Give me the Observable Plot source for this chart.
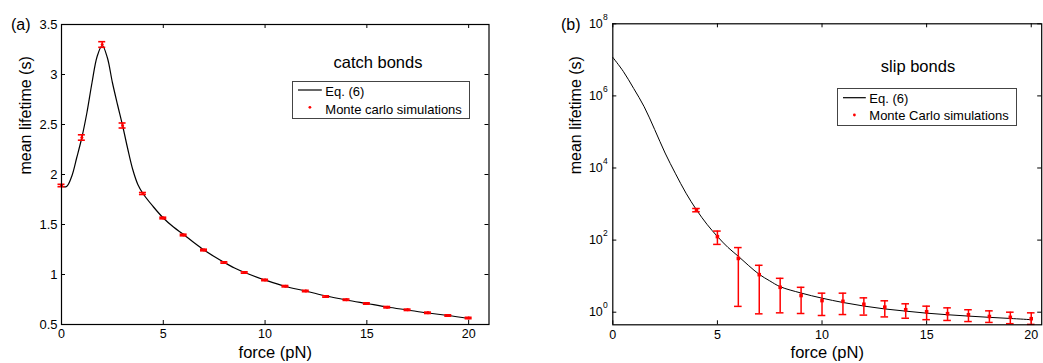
<!DOCTYPE html>
<html><head><meta charset="utf-8">
<script src="https://cdn.jsdelivr.net/npm/d3@7"></script>
<script src="https://cdn.jsdelivr.net/npm/@observablehq/plot@0.6"></script>
<style>
body{margin:0;background:#fff;font-family:"Liberation Sans",Arial,sans-serif;}
#wrap{position:relative;width:1043px;height:363px;overflow:hidden;background:#fff;}
#wrap > svg{position:absolute;top:0;}
</style></head><body><div id="wrap"></div>
<script>
// ---------- Panel (a): catch bonds ----------
const forceA = [0,1,2,3,4,5,6,7,8,9,10,11,12,13,14,15,16,17,18,19,20];
const lifetimeA = [1.89,2.37,3.30,2.49,1.81,1.565,1.395,1.245,1.12,1.02,0.945,0.883,0.835,0.78,0.748,0.71,0.673,0.647,0.617,0.59,0.565];
const errA = [0.012,0.027,0.028,0.025,0.01,0.008,0.008,0.008,0.007,0.007,0.007,0.007,0.007,0.007,0.007,0.007,0.007,0.007,0.007,0.007,0.007];
const curveForceA = [0,0.25,0.5,0.75,1,1.25,1.5,1.75,2,2.25,2.5,2.75,3,3.25,3.5,3.75,4,4.5,5,5.5,6,6.5,7,7.5,8,8.5,9,10,11,12,13,14,15,16,17,18,19,20];
const curveA = [1.88,1.88,1.98,2.17,2.37,2.62,2.92,3.18,3.29,3.17,2.92,2.70,2.49,2.26,2.05,1.90,1.81,1.68,1.565,1.475,1.40,1.32,1.245,1.18,1.12,1.065,1.02,0.945,0.88,0.835,0.785,0.745,0.71,0.675,0.645,0.615,0.59,0.56];
const xTicks = [0,5,10,15,20];
const yTicksA = [0.5,1,1.5,2,2.5,3,3.5];

// ---------- Panel (b): slip bonds ----------
const forceB = [4,5,6,7,8,9,10,11,12,13,14,15,16,17,18,19,20];
const lifetimeB = [690,125,31,11,4.9,2.9,2.1,2.0,1.66,1.38,1.17,1.03,0.91,0.85,0.76,0.72,0.66];
const lowB = [610,76,1.45,0.90,0.96,0.92,0.81,0.86,0.83,0.74,0.68,0.62,0.59,0.55,0.52,0.48,0.46];
const highB = [753,178,62,20,8.7,4.9,3.37,3.37,2.5,2.07,1.71,1.47,1.32,1.17,1.09,1.0,0.96];
const curveForceB = [0,0.5,1,1.5,2,2.5,3,3.5,4,4.5,5,5.5,6,6.5,7,7.5,8,9,10,11,12,13,14,15,16,17,18,19,20];
const curveB = [1.17e7,4.8e6,1.6e6,5.0e5,1.17e5,2.6e4,6.9e3,2.0e3,690,275,126,63,35.5,19.5,11.2,7.4,5.1,3.4,2.45,1.86,1.48,1.23,1.07,0.94,0.85,0.78,0.72,0.67,0.62];
const yTicksB = [1,1e2,1e4,1e6,1e8];
const yTickExpB = ["0","2","4","6","8"];

const FONT = "Liberation Sans, Arial, sans-serif";
const ptsA = forceA.map((f,i)=>({f, v:lifetimeA[i], lo:lifetimeA[i]-errA[i], hi:lifetimeA[i]+errA[i]}));
const lineA = curveForceA.map((f,i)=>({f, v:curveA[i]}));
const ptsB = forceB.map((f,i)=>({f, v:lifetimeB[i], lo:lowB[i], hi:highB[i]}));
const lineB = curveForceB.map((f,i)=>({f, v:curveB[i]}));

function innerTicks(xt, yt, iw, ih, tl) {
  return [
    Plot.ruleX(xt, {x: d=>d, insetTop: ih - tl, stroke: "#000"}),
    Plot.ruleX(xt, {x: d=>d, insetBottom: ih - tl, stroke: "#000"}),
    Plot.ruleY(yt, {y: d=>d, insetRight: iw - tl, stroke: "#000"}),
    Plot.ruleY(yt, {y: d=>d, insetLeft: iw - tl, stroke: "#000"})
  ];
}

// Panel a geometry
const A = {w: 520, h: 363, ml: 61, mr: 31.5, mt: 24, mb: 39};
const aiw = A.w - A.ml - A.mr, aih = A.h - A.mt - A.mb;
const plotA = Plot.plot({
  width: A.w, height: A.h, marginLeft: A.ml, marginRight: A.mr, marginTop: A.mt, marginBottom: A.mb,
  style: {fontFamily: FONT, background: "transparent", overflow: "visible", color: "#000"},
  x: {domain: [0, 21]},
  y: {domain: [0.5, 3.5]},
  marks: [
    Plot.axisX(xTicks, {tickSize: 0, tickPadding: 5, fontSize: 12.5, label: null, tickFormat: d => String(d)}),
    Plot.axisY(yTicksA, {tickSize: 0, tickPadding: 4, fontSize: 13, label: null, tickFormat: d => String(d)}),
    ...innerTicks(xTicks, yTicksA, aiw, aih, 4),
    Plot.line(lineA, {x: "f", y: "v", curve: "catmull-rom", stroke: "#000", strokeWidth: 1.2}),
    Plot.ruleX(ptsA, {x: "f", y1: "lo", y2: "hi", stroke: "red", strokeWidth: 1.5}),
    Plot.ruleY(ptsA, {y: "lo", x1: "f", x2: "f", insetLeft: -3.5, insetRight: -3.5, stroke: "red", strokeWidth: 1.6}),
    Plot.ruleY(ptsA, {y: "hi", x1: "f", x2: "f", insetLeft: -3.5, insetRight: -3.5, stroke: "red", strokeWidth: 1.6}),
    Plot.dot(ptsA, {x: "f", y: "v", r: 1.5, fill: "red", stroke: null}),
    Plot.frame({stroke: "#000", strokeWidth: 1.2}),
    Plot.text(["force (pN)"], {text: d => d, frameAnchor: "bottom", lineAnchor: "top", dy: 21.8, fontSize: 16.5}),
    Plot.text(["mean lifetime (s)"], {text: d => d, frameAnchor: "left", dx: -36, rotate: -90, fontSize: 16})
  ]
});
plotA.style.left = "0px";

// Panel b geometry
const B = {left: 530, w: 513, h: 363, ml: 82.3, mr: 1.8, mt: 23.3, mb: 38.7};
const biw = B.w - B.ml - B.mr, bih = B.h - B.mt - B.mb;
const plotB = Plot.plot({
  width: B.w, height: B.h, marginLeft: B.ml, marginRight: B.mr, marginTop: B.mt, marginBottom: B.mb,
  style: {fontFamily: FONT, background: "transparent", overflow: "visible", color: "#000"},
  x: {domain: [0, 20.5]},
  y: {type: "log", domain: [0.447, 1e8]},
  marks: [
    Plot.axisX(xTicks, {tickSize: 0, tickPadding: 5, fontSize: 12.5, label: null, tickFormat: d => String(d)}),
    Plot.axisY(yTicksB, {tickSize: 0, tickPadding: 10, fontSize: 12.5, label: null, tickFormat: () => "10"}),
    Plot.text(yTicksB, {y: d => d, text: (d,i) => yTickExpB[i], frameAnchor: "left", textAnchor: "start", dx: -9.8, dy: -6.5, fontSize: 8.5}),
    ...innerTicks(xTicks, yTicksB, biw, bih, 4),
    Plot.line(lineB, {x: "f", y: "v", curve: "catmull-rom", stroke: "#000", strokeWidth: 1}),
    Plot.ruleX(ptsB, {x: "f", y1: "lo", y2: "hi", stroke: "red", strokeWidth: 1.5}),
    Plot.ruleY(ptsB, {y: "lo", x1: "f", x2: "f", insetLeft: -3.8, insetRight: -3.8, stroke: "red", strokeWidth: 1.5}),
    Plot.ruleY(ptsB, {y: "hi", x1: "f", x2: "f", insetLeft: -3.8, insetRight: -3.8, stroke: "red", strokeWidth: 1.5}),
    Plot.dot(ptsB, {x: "f", y: "v", r: 2, symbol: "square", fill: "red", stroke: null}),
    Plot.frame({stroke: "#000", strokeWidth: 1.2}),
    Plot.text(["force (pN)"], {text: d => d, frameAnchor: "bottom", lineAnchor: "top", dy: 21.5, fontSize: 16.5}),
    Plot.text(["mean lifetime (s)"], {text: d => d, frameAnchor: "left", dx: -37, rotate: -90, fontSize: 16})
  ]
});
plotB.style.left = B.left + "px";

const wrap = document.getElementById("wrap");
wrap.appendChild(plotA);
wrap.appendChild(plotB);

// ---------- Annotations: panel tags, titles, legends ----------
const ov = d3.select(wrap).append("svg")
  .attr("width", 1043).attr("height", 363)
  .style("left", "0px").style("pointer-events", "none")
  .attr("font-family", FONT);

ov.append("text").attr("x", 11).attr("y", 30).attr("font-size", 16).text("(a)");
ov.append("text").attr("x", 561).attr("y", 30).attr("font-size", 16).text("(b)");
ov.append("text").attr("x", 378).attr("y", 67.5).attr("text-anchor", "middle").attr("font-size", 16.5).text("catch bonds");
ov.append("text").attr("x", 918).attr("y", 71.5).attr("text-anchor", "middle").attr("font-size", 16.5).text("slip bonds");

function legend(g, box, lineY, dotY, textX, base1, base2, label2) {
  g.append("rect").attr("x", box[0]).attr("y", box[1]).attr("width", box[2]).attr("height", box[3])
    .attr("fill", "#fff").attr("stroke", "#444").attr("stroke-width", 1);
  g.append("line").attr("x1", box[0] + 5.5).attr("x2", textX - 3.5).attr("y1", lineY).attr("y2", lineY)
    .attr("stroke", "#000").attr("stroke-width", 1.2);
  g.append("circle").attr("cx", (box[0] + 5.5 + textX - 3.5) / 2).attr("cy", dotY).attr("r", 1.4).attr("fill", "red");
  g.append("text").attr("x", textX).attr("y", base1).attr("font-size", 13).text("Eq. (6)");
  g.append("text").attr("x", textX).attr("y", base2).attr("font-size", 13).text(label2);
}
legend(ov, [292.5, 81.5, 177, 37], 90, 107.3, 325.3, 96, 113.5, "Monte carlo simulations");
legend(ov, [837.5, 88.5, 179, 37], 97.7, 115, 869.3, 103, 120.3, "Monte Carlo simulations");
</script></body></html>
